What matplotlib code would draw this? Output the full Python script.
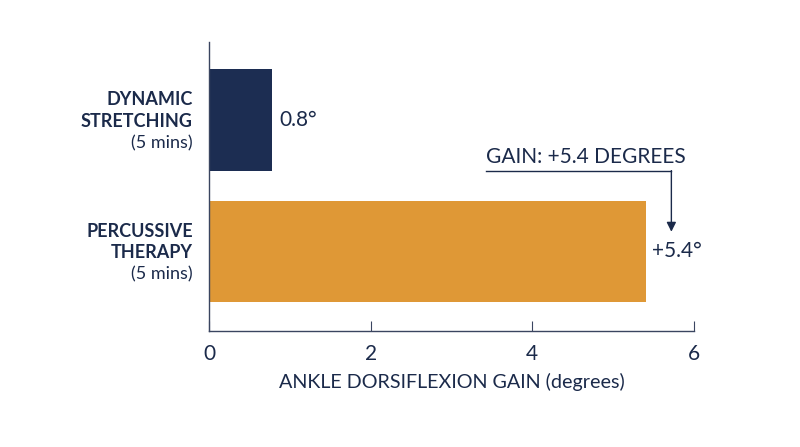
import numpy as np
import matplotlib.pyplot as plt

plt.rcParams['font.family'] = ['Lato', 'DejaVu Sans']

# data
group_line1 = ['DYNAMIC', 'PERCUSSIVE']
group_line2 = ['STRETCHING', 'THERAPY']
durations = ['(5 mins)', '(5 mins)']
gains = [0.78, 5.4]
value_labels = ['0.8°', '+5.4°']
bar_colors = ['#1c2d52', '#df9836']
xticks = [0, 2, 4, 6]
note = 'GAIN: +5.4 DEGREES'

navy = '#1b2a4a'

fig = plt.figure(figsize=(8, 4.47), dpi=100)
ax = fig.add_axes([0.26125, 0.2595, 0.60625, 0.6465])

ypos = np.arange(len(group_line1))
ax.barh(ypos, gains, height=0.77, color=bar_colors)
ax.set_ylim(1.605, -0.593)
ax.set_xlim(0, 6)

for y, g1, g2, d, v, lab in zip(ypos, group_line1, group_line2, durations, gains, value_labels):
    ax.text(-0.2, y - 0.155, g1, ha='right', va='center', fontsize=13,
            fontweight='bold', color=navy)
    ax.text(-0.2, y + 0.01, g2, ha='right', va='center', fontsize=13,
            fontweight='bold', color=navy)
    ax.text(-0.2, y + 0.175, d, ha='right', va='center', fontsize=13,
            color=navy)
    ax.text(v + 0.085, y, lab, ha='left', va='center', fontsize=15, color=navy)

# annotation bracket
ax.text(3.43, 0.28, note, ha='left', va='center', fontsize=15, color=navy)
ax.plot([3.43, 5.72], [0.39, 0.39], color=navy, lw=1)
ax.annotate('', xy=(5.72, 0.85), xytext=(5.72, 0.385),
            arrowprops=dict(arrowstyle='-|>', color=navy, lw=1,
                            mutation_scale=14, shrinkA=0, shrinkB=0))

for s in ['top', 'right']:
    ax.spines[s].set_visible(False)
for s in ['left', 'bottom']:
    ax.spines[s].set_color('#3a4560')
    ax.spines[s].set_linewidth(1)

ax.set_yticks([])
ax.set_xticks(xticks)
ax.tick_params(axis='x', direction='in', length=7, color='#3a4560',
               labelsize=15, labelcolor=navy, pad=9)
ax.set_xlabel('ANKLE DORSIFLEXION GAIN (degrees)', fontsize=14.2, color=navy,
              labelpad=7)

fig.savefig('out.png', dpi=100)
